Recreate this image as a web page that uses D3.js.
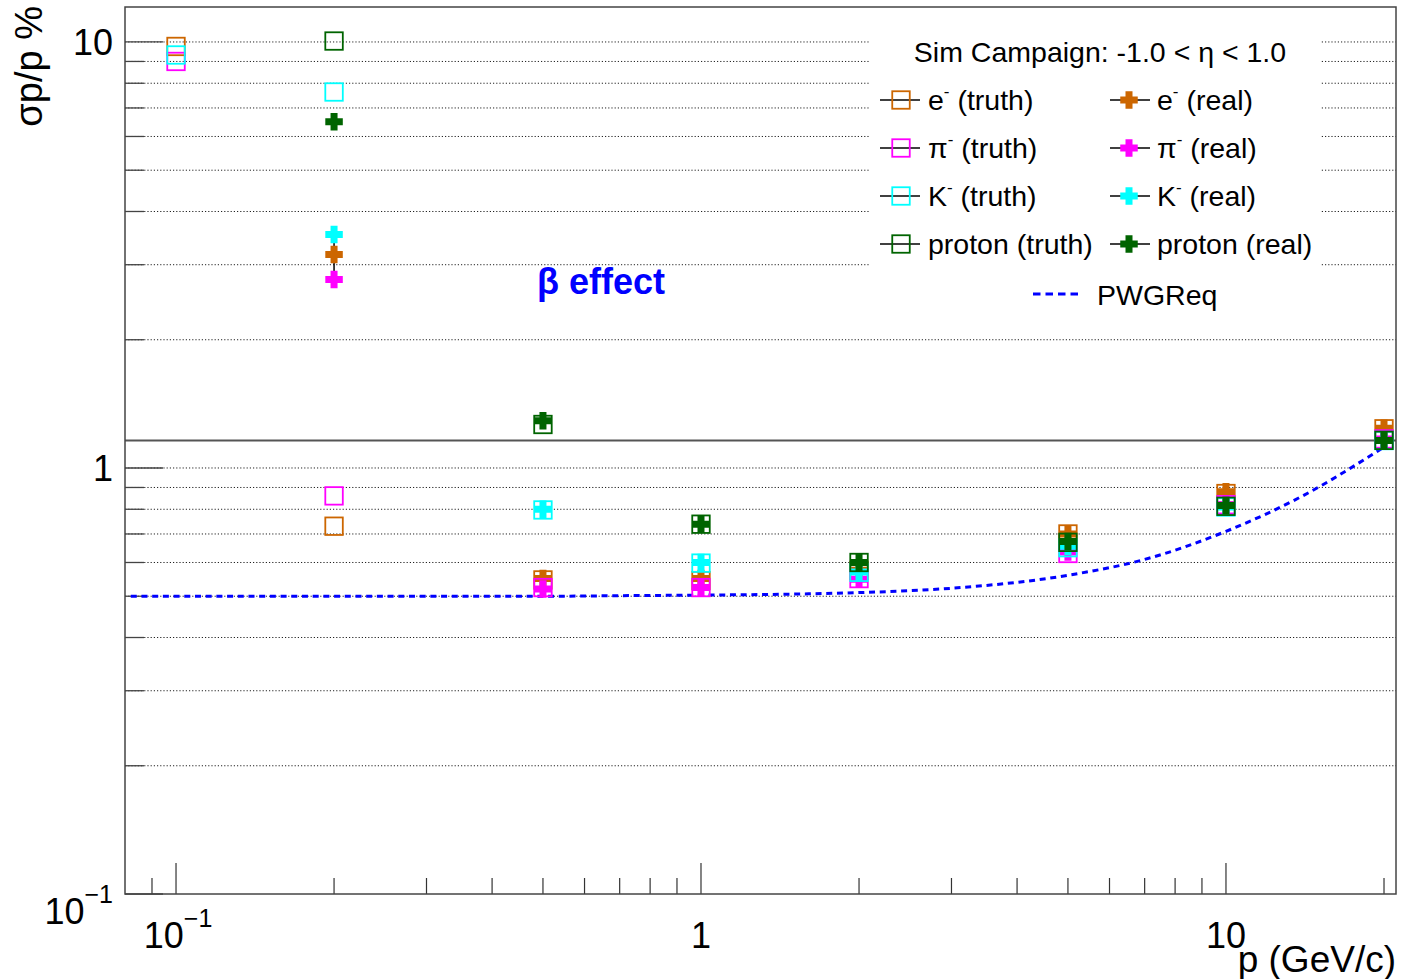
<!DOCTYPE html>
<html>
<head>
<meta charset="utf-8">
<script src="https://cdn.jsdelivr.net/npm/d3@7"></script>
<style>
  html, body { margin: 0; padding: 0; background: #fff; }
  svg { display: block; font-family: "Liberation Sans", Arial, Helvetica, sans-serif; }
</style>
</head>
<body>
<svg id="chart" width="1401" height="979"></svg>
<script>
// Momentum points (GeV/c)
const momenta = [0.1, 0.2, 0.5, 1, 2, 5, 10, 20];

// Relative momentum resolution sigma_p/p in %, truth-seeded tracking
const eTruth  = [9.76, 0.73, 0.546, 0.544, 0.575, 0.70, 0.871, 1.236];
const piTruth = [9.00, 0.86, 0.524, 0.524, 0.550, 0.63, 0.820, 1.170];
const kTruth  = [9.32, 7.63, 0.797, 0.598, 0.569, 0.65, 0.810, 1.160];
const pTruth  = [null, 10.05, 1.265, 0.738, 0.600, 0.669, 0.813, 1.161];

// Relative momentum resolution sigma_p/p in %, realistic seeding
const eReal  = [null, 3.17, 0.550, 0.550, 0.575, 0.700, 0.880, 1.240];
const piReal = [null, 2.77, 0.520, 0.524, 0.548, 0.635, 0.820, 1.170];
const kReal  = [null, 3.53, 0.800, 0.600, 0.570, 0.655, 0.810, 1.160];
const pReal  = [null, 6.50, 1.290, 0.738, 0.600, 0.672, 0.817, 1.160];
const eRealErr = [0, 0.27, 0, 0, 0, 0, 0, 0];

// Physics working group requirement curve
const pwgP = [0.082, 0.5, 0.78, 1, 2, 3, 5, 7, 10, 14, 20];
const pwgV = [0.500, 0.500, 0.502, 0.503, 0.510, 0.522, 0.560, 0.610, 0.710, 0.860, 1.120];

// Reference level line
const refLevel = 1.16;

// Axis ticks
const xMajor = [0.1, 1, 10];
const xMinor = [0.09, 0.2, 0.3, 0.4, 0.5, 0.6, 0.7, 0.8, 0.9, 2, 3, 4, 5, 6, 7, 8, 9, 20];
const yMajor = [0.1, 1, 10];
const yMinor = [0.2, 0.3, 0.4, 0.5, 0.6, 0.7, 0.8, 0.9, 2, 3, 4, 5, 6, 7, 8, 9];
const xTickLabels = [["10", "\u22121"], ["1", null], ["10", null]];
const yTickLabels = [["10", "\u22121"], ["1", null], ["10", null]];

const species = [
  { name: "e",      sup: "-", color: "#cc6600", truth: eTruth,  real: eReal,  err: eRealErr },
  { name: "\u03c0", sup: "-", color: "#ff00ff", truth: piTruth, real: piReal, err: null },
  { name: "K",      sup: "-", color: "#00ffff", truth: kTruth,  real: kReal,  err: null },
  { name: "proton", sup: null, color: "#006400", truth: pTruth, real: pReal,  err: null }
];

const svg = d3.select("#chart");
const L = 125, R = 1396, T = 7, B = 894;

const x = d3.scaleLog().domain([0.07995, 21.08]).range([L, R]);
const y = d3.scaleLog().domain([0.1, 12.08]).range([B, T]);

svg.append("rect").attr("width", 1401).attr("height", 979).attr("fill", "#fff");

// Horizontal dotted grid at every y tick
const gridVals = yMajor.concat(yMinor).filter(v => v > 0.1);
svg.append("g").selectAll("line").data(gridVals).join("line")
  .attr("x1", L).attr("x2", R)
  .attr("y1", d => y(d)).attr("y2", d => y(d))
  .attr("stroke", "#222").attr("stroke-width", 1)
  .attr("stroke-dasharray", "1.2,2");

// Y ticks
const yt = svg.append("g").attr("stroke", "#444").attr("stroke-width", 1.3);
yt.selectAll(".maj").data(yMajor).join("line").attr("class", "maj")
  .attr("x1", L).attr("x2", L + 38).attr("y1", d => y(d)).attr("y2", d => y(d));
yt.selectAll(".min").data(yMinor).join("line").attr("class", "min")
  .attr("x1", L).attr("x2", L + 19).attr("y1", d => y(d)).attr("y2", d => y(d));

// X ticks
const xt = svg.append("g").attr("stroke", "#333").attr("stroke-width", 1.2);
xt.selectAll(".maj").data(xMajor).join("line").attr("class", "maj")
  .attr("x1", d => x(d)).attr("x2", d => x(d)).attr("y1", B).attr("y2", B - 31);
xt.selectAll(".min").data(xMinor).join("line").attr("class", "min")
  .attr("x1", d => x(d)).attr("x2", d => x(d)).attr("y1", B).attr("y2", B - 16);

// Reference level line
svg.append("line")
  .attr("x1", L).attr("x2", R).attr("y1", y(refLevel)).attr("y2", y(refLevel))
  .attr("stroke", "#555").attr("stroke-width", 2);

// Frame
svg.append("rect").attr("x", L).attr("y", T).attr("width", R - L).attr("height", B - T)
  .attr("fill", "none").attr("stroke", "#444").attr("stroke-width", 1.5);

// Tick labels
const fs = 36;
function powLabel(g, base, exp, anchorX, baseY, anchor) {
  const t = g.append("text").attr("y", baseY).attr("font-size", fs).attr("fill", "#000");
  t.append("tspan").text(base);
  if (exp) t.append("tspan").attr("font-size", 25).attr("dy", -21).text(exp);
  const w = t.node().getComputedTextLength();
  if (anchor === "end") t.attr("x", anchorX - w);
  else t.attr("x", anchorX - w / 2);
  return t;
}
const lab = svg.append("g");
yMajor.forEach((v, i) => {
  const [b, e] = yTickLabels[i];
  const base = e ? 924 : y(v) + 13;
  powLabel(lab, b, e, 113, base, "end");
});
xMajor.forEach((v, i) => {
  const [b, e] = xTickLabels[i];
  powLabel(lab, b, e, x(v) + (e ? 2 : 0), 948, "middle");
});

// Axis titles
svg.append("text").attr("x", R).attr("y", 972).attr("text-anchor", "end")
  .attr("font-size", 37).attr("fill", "#000").text("p (GeV/c)");
svg.append("text").attr("transform", "translate(42,6) rotate(-90)")
  .attr("text-anchor", "end").attr("font-size", 38).attr("fill", "#000").text("\u03c3p/p %");

// Requirement curve
const line = d3.line().x(d => x(d[0])).y(d => y(d[1])).curve(d3.curveMonotoneX);
svg.append("path").datum(pwgP.map((p, i) => [p, pwgV[i]]))
  .attr("d", line).attr("fill", "none").attr("stroke", "#0000ff")
  .attr("stroke-width", 3).attr("stroke-dasharray", "6,4.7");

// Markers
const SQ = 17.5, CS = 17.5, CA = 7;
function crossPath(s, a) {
  const h = s / 2, k = a / 2;
  return `M${-k},${-h}H${k}V${-k}H${h}V${k}H${k}V${h}H${-k}V${k}H${-h}V${-k}H${-k}Z`;
}
const cp = crossPath(CS, CA);

// Error bars on realistic points
species.forEach(s => {
  if (!s.err) return;
  momenta.forEach((p, i) => {
    const v = s.real[i], e = s.err[i];
    if (v == null || !e) return;
    svg.append("line").attr("x1", x(p)).attr("x2", x(p))
      .attr("y1", y(v + e)).attr("y2", y(v - e))
      .attr("stroke", "#000").attr("stroke-width", 1.5);
  });
});

species.forEach(s => {
  const g = svg.append("g");
  momenta.forEach((p, i) => {
    const v = s.truth[i];
    if (v == null) return;
    g.append("rect").attr("x", x(p) - SQ / 2).attr("y", y(v) - SQ / 2)
      .attr("width", SQ).attr("height", SQ)
      .attr("fill", "none").attr("stroke", s.color).attr("stroke-width", 1.8);
  });
  momenta.forEach((p, i) => {
    const v = s.real[i];
    if (v == null) return;
    g.append("path").attr("d", cp)
      .attr("transform", `translate(${x(p)},${y(v)})`)
      .attr("fill", s.color);
  });
});

// Annotation
svg.append("text").attr("x", 537).attr("y", 294).attr("font-size", 36)
  .attr("font-weight", "bold").attr("fill", "#0000ff").text("\u03b2 effect");

// Legend
const leg = svg.append("g");
leg.append("rect").attr("x", 869).attr("y", 22).attr("width", 451).attr("height", 298).attr("fill", "#fff");
leg.append("text").attr("x", 1100).attr("y", 62).attr("text-anchor", "middle")
  .attr("font-size", 28.5).attr("fill", "#000").text("Sim Campaign: -1.0 < \u03b7 < 1.0");

const rowY = [100, 148, 196, 244];
function entryText(tx, ty, s, tag) {
  const t = leg.append("text").attr("x", tx).attr("y", ty + 10).attr("font-size", 28.5).attr("fill", "#000");
  t.append("tspan").text(s.name);
  if (s.sup) {
    t.append("tspan").attr("font-size", 17).attr("dy", -13).text(s.sup);
    t.append("tspan").attr("dy", 13).text(" " + tag);
  } else {
    t.append("tspan").text(" " + tag);
  }
}
species.forEach((s, i) => {
  const ry = rowY[i];
  // truth column
  leg.append("line").attr("x1", 880).attr("x2", 920).attr("y1", ry).attr("y2", ry)
    .attr("stroke", "#000").attr("stroke-width", 1.3);
  leg.append("rect").attr("x", 901 - SQ / 2).attr("y", ry - SQ / 2).attr("width", SQ).attr("height", SQ)
    .attr("fill", "none").attr("stroke", s.color).attr("stroke-width", 1.8);
  entryText(928, ry, s, "(truth)");
  // real column
  leg.append("line").attr("x1", 1110).attr("x2", 1150).attr("y1", ry).attr("y2", ry)
    .attr("stroke", "#000").attr("stroke-width", 1.3);
  leg.append("path").attr("d", cp).attr("transform", `translate(1129,${ry})`).attr("fill", s.color);
  entryText(1157, ry, s, "(real)");
});
leg.append("line").attr("x1", 1033).attr("x2", 1081).attr("y1", 294).attr("y2", 294)
  .attr("stroke", "#0000ff").attr("stroke-width", 3).attr("stroke-dasharray", "7.5,5");
leg.append("text").attr("x", 1097).attr("y", 305).attr("font-size", 28.5).attr("fill", "#000").text("PWGReq");
</script>
</body>
</html>
